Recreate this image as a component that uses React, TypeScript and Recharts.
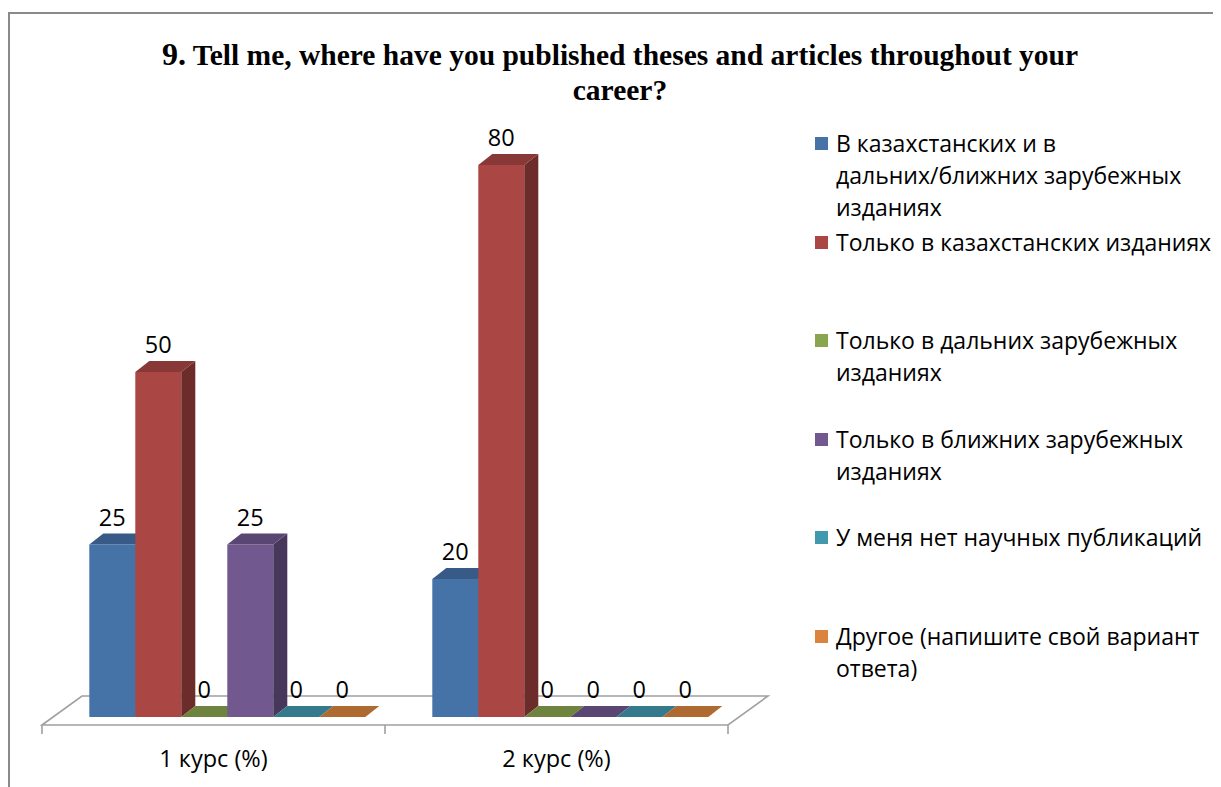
import React from 'react'
import { BarChart, Bar, XAxis, YAxis, Customized } from 'recharts'

const categories = ['1 курс (%)', '2 курс (%)']

const seriesNames = [
  'В казахстанских и в дальних/ближних зарубежных изданиях',
  'Только в казахстанских изданиях',
  'Только в дальних зарубежных изданиях',
  'Только в ближних зарубежных изданиях',
  'У меня нет научных публикаций',
  'Другое (напишите свой вариант ответа)',
]

const bothValues = [25, 20]
const kzOnlyValues = [50, 80]
const farOnlyValues = [0, 0]
const nearOnlyValues = [25, 0]
const noPubValues = [0, 0]
const otherValues = [0, 0]

const seriesValues = [bothValues, kzOnlyValues, farOnlyValues, nearOnlyValues, noPubValues, otherValues]

const colors = ['#4572A7', '#AA4643', '#89A54E', '#71588F', '#4198AF', '#DB843D']

const data = categories.map((c, i) => {
  const row: Record<string, string | number> = { name: c }
  seriesValues.forEach((vals, s) => {
    row['s' + s] = vals[i]
  })
  return row
})

// layout
const W = 1213
const H = 779
const M = { top: 19, right: 480, bottom: 40, left: 47 }
const XAXIS_H = 30
const PLOT_L = M.left
const PLOT_R = W - M.right
const PLOT_B = H - M.bottom - XAXIS_H
const DX = 14
const DY = 11
const FONT = '"Open Sans", "Noto Sans", sans-serif'

function shade(hex: string, k: number) {
  const n = parseInt(hex.slice(1), 16)
  const r = Math.round(((n >> 16) & 255) * k)
  const g = Math.round(((n >> 8) & 255) * k)
  const b = Math.round((n & 255) * k)
  return `rgb(${r},${g},${b})`
}

const makeShape = (color: string) => (props: any) => {
  const { x, y, width, height } = props
  if (x == null || y == null) return <g />
  const h = Math.max(0, height || 0)
  const w = width
  const top = `${x},${y} ${x + w},${y} ${x + w + DX},${y - DY} ${x + DX},${y - DY}`
  const side = `${x + w},${y} ${x + w + DX},${y - DY} ${x + w + DX},${y + h - DY} ${x + w},${y + h}`
  return (
    <g>
      {h > 0 && <rect x={x} y={y} width={w} height={h} fill={color} />}
      {h > 0 && <polygon points={side} fill={shade(color, 0.63)} />}
      <polygon points={top} fill={shade(color, 0.8)} />
    </g>
  )
}

const renderLabel = (props: any) => {
  const { x, y, width, value } = props
  return (
    <text
      x={x + width / 2}
      y={y - DY - 17}
      textAnchor="middle"
      dominantBaseline="central"
      fontFamily={FONT}
      fontSize={23.5}
      fill="#000"
    >
      {value}
    </text>
  )
}

const CategoryTick = (props: any) => {
  const { x, payload } = props
  return (
    <text
      x={x - 13}
      y={PLOT_B + 41}
      textAnchor="middle"
      dominantBaseline="central"
      fontFamily={FONT}
      fontSize={23.5}
      fill="#000"
    >
      {payload.value}
    </text>
  )
}

const Floor = () => {
  const bandW = (PLOT_R - PLOT_L) / categories.length
  const fy = PLOT_B + 8
  const by = PLOT_B - 21
  const fl = PLOT_L - 13
  const fr = PLOT_R - 13
  const pts = `${fl},${fy} ${fl + 40},${by} ${fr + 40},${by} ${fr},${fy}`
  return (
    <g>
      <polygon points={pts} fill="none" stroke="#A0A0A0" strokeWidth={1.6} />
      {Array.from({ length: categories.length + 1 }, (_, i) => (
        <line
          key={i}
          x1={fl + i * bandW}
          x2={fl + i * bandW}
          y1={fy}
          y2={fy + 9}
          stroke="#A0A0A0"
          strokeWidth={1.6}
        />
      ))}
    </g>
  )
}

const LegendBox = () => (
  <div style={{ position: 'absolute', left: 807, top: 119, width: 400, height: 600, fontFamily: FONT, fontSize: 23 }}>
    {seriesNames.map((n, i) => (
      <div
        key={n}
        style={{ position: 'absolute', left: 0, top: i * 98.5, display: 'flex', alignItems: 'flex-start' }}
      >
        <div style={{ width: 13, height: 13, flex: 'none', background: colors[i], marginTop: 10, marginRight: 8 }} />
        <div style={{ width: 385, lineHeight: '32px', color: '#000' }}>
          {n.split(' ').map((word, k) => (
            <React.Fragment key={k}>
              {k > 0 ? ' ' : ''}
              <span style={{ whiteSpace: 'nowrap' }}>{word}</span>
            </React.Fragment>
          ))}
        </div>
      </div>
    ))}
  </div>
)

export default function App() {
  return (
    <div style={{ position: 'relative', width: W, height: H, background: '#fff' }}>
      <div
        style={{
          position: 'absolute',
          left: 0,
          top: 4,
          width: W,
          height: H - 4,
          borderTop: '2px solid #8A8A8A',
          borderLeft: '2px solid #8A8A8A',
          boxSizing: 'border-box',
        }}
      />
      <div
        style={{
          position: 'absolute',
          left: 112,
          width: 1000,
          top: 29,
          textAlign: 'center',
          fontFamily: '"Liberation Serif", "Times New Roman", serif',
          fontWeight: 'bold',
          fontSize: 29.5,
          lineHeight: '35px',
          color: '#000',
        }}
      >
        <span style={{ fontSize: 32 }}>9.</span> Tell me, where have you published theses and articles throughout your
        <br />
        career?
      </div>
      <BarChart
        width={W}
        height={H}
        data={data}
        margin={M}
        barGap={0}
        barCategoryGap="10%"
        style={{ position: 'absolute', left: 0, top: 0 }}
      >
        <Customized component={<Floor />} />
        <XAxis
          dataKey="name"
          height={XAXIS_H}
          axisLine={false}
          tickLine={false}
          tick={<CategoryTick />}
          interval={0}
        />
        <YAxis hide domain={[0, 100]} />
        {seriesNames.map((n, i) => (
          <Bar
            key={n}
            dataKey={'s' + i}
            name={n}
            fill={colors[i]}
            shape={makeShape(colors[i])}
            label={renderLabel}
            isAnimationActive={false}
          />
        ))}
      </BarChart>
      <LegendBox />
    </div>
  )
}
